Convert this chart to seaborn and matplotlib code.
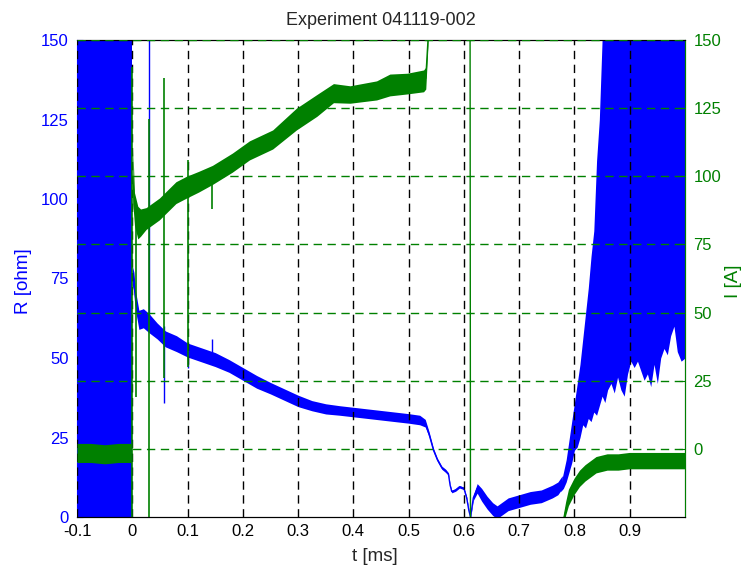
import matplotlib
matplotlib.use("Agg")
import numpy as np
import pandas as pd
import matplotlib.pyplot as plt
import seaborn as sns

# ---------------- data ----------------
title = "Experiment 041119-002"
x_ticks = [-0.1, 0.0, 0.1, 0.2, 0.3, 0.4, 0.5, 0.6, 0.7, 0.8, 0.9]
x_tick_labels = ["-0.1", "0", "0.1", "0.2", "0.3", "0.4", "0.5", "0.6", "0.7", "0.8", "0.9"]
r_ticks = [0, 25, 50, 75, 100, 125, 150]
i_ticks = [0, 25, 50, 75, 100, 125, 150]

# R [ohm] : pre-trigger noise fills the whole range
r_pre_t = [-0.1, -0.0005]
r_pre_lo = [0, 0]
r_pre_hi = [150, 150]

# R [ohm] : main trace (centre and half width of the noise band)
r_t = [0.0, 0.003, 0.006, 0.012, 0.02, 0.03, 0.045, 0.06, 0.08, 0.1, 0.125, 0.15,
       0.175, 0.2, 0.225, 0.25, 0.275, 0.3, 0.325, 0.35, 0.375, 0.4, 0.425, 0.45,
       0.475, 0.5, 0.52, 0.53, 0.537, 0.545, 0.552, 0.56, 0.567, 0.572, 0.575,
       0.578, 0.585, 0.592, 0.6, 0.605, 0.609, 0.612, 0.617, 0.624, 0.632, 0.642,
       0.652, 0.66, 0.668, 0.68, 0.7, 0.72, 0.74, 0.76, 0.77, 0.778]
r_mid = [76, 74, 68, 62, 62.5, 61, 58.5, 56, 54.5, 52.5, 51, 49.5,
         47.5, 45, 42.5, 40.5, 38.5, 36.5, 35, 34, 33.5, 33, 32.5, 32,
         31.5, 31, 30.5, 29.5, 26, 21, 18, 15.5, 14.5, 13.5, 10,
         8, 8.5, 9.5, 9, 6, 2, 0, 6, 9, 7, 4.5,
         2.5, 1.5, 2.5, 4, 5, 6, 6.5, 8, 9, 11]
r_half = [3, 3, 3, 3, 3, 3, 2.5, 2.5, 2.5, 2.2, 2.2, 2.2,
          2, 2, 2, 1.8, 1.8, 1.8, 1.6, 1.6, 1.5, 1.5, 1.5, 1.5,
          1.5, 1.5, 1.5, 1.2, 0.8, 0.6, 0.5, 0.5, 0.5, 0.4, 0.4,
          0.4, 0.4, 0.4, 0.4, 0.4, 0.4, 0.4, 0.8, 1.5, 2, 2,
          2, 2, 2, 2, 2, 2, 2, 2, 2, 2]

# R [ohm] : rising noisy tail (lower / upper envelope)
r_tail_t = [0.775, 0.78, 0.785, 0.79, 0.795, 0.80, 0.805, 0.81, 0.815, 0.82, 0.825,
            0.83, 0.835, 0.84, 0.845, 0.85, 0.855, 0.86, 0.866, 0.872, 0.878,
            0.884, 0.89, 0.896, 0.902, 0.908, 0.914, 0.92, 0.926, 0.932, 0.938,
            0.944, 0.95, 0.956, 0.962, 0.968, 0.974, 0.98, 0.986, 0.993, 1.0]
r_tail_lo = [8, 9, 11, 14, 17, 21, 22, 25, 29, 28, 31,
             30, 33, 32, 35, 38, 36, 40, 42, 39, 44,
             40, 38, 45, 49, 47, 49, 46, 43, 45, 41,
             48, 42, 50, 53, 51, 57, 60, 52, 49, 50]
r_tail_hi = [10, 14, 18, 24, 30, 36, 42, 48, 56, 64, 72,
             82, 90, 112, 125, 150, 150, 150, 150, 150, 150,
             150, 150, 150, 150, 150, 150, 150, 150, 150, 150,
             150, 150, 150, 150, 150, 150, 150, 150, 150, 150]

# R [ohm] : single spikes (time, low, high)
r_spike_t = [0.030, 0.058, 0.100, 0.145]
r_spike_lo = [61, 36, 47, 49]
r_spike_hi = [150, 60, 53, 56]

# I [A] : pre-trigger baseline
i_pre_t = [-0.1, -0.075, -0.05, -0.025, -0.002]
i_pre_mid = [-1.5, -1.5, -2, -1.5, -1.5]
i_pre_half = [3.5, 3.5, 3.5, 3.5, 3.5]

# I [A] : main trace
i_t = [0.001, 0.004, 0.01, 0.015, 0.025, 0.049, 0.079, 0.098, 0.12, 0.145, 0.181,
       0.212, 0.254, 0.297, 0.334, 0.364, 0.394, 0.442, 0.466, 0.497, 0.527,
       0.531, 0.535, 0.54, 0.611]
i_mid = [100, 88, 83, 83, 84.5, 88, 94, 96, 98, 100.5, 105,
         109.5, 113.5, 121, 126, 130.5, 130, 131.5, 133.5, 134, 135,
         136, 150, 200, 200]
i_half = [10, 6, 6, 5, 4, 4, 4, 4, 3.8, 3.5, 3.5,
          3.5, 3.5, 4, 4, 3.5, 3.2, 3.5, 4, 3.8, 4,
          4, 2, 1, 1]

# I [A] : recovery after the current gap
i_end_t = [0.611, 0.612, 0.775, 0.78, 0.785, 0.79, 0.80, 0.81, 0.82, 0.83, 0.84,
           0.86, 0.88, 0.9, 0.95, 1.0]
i_end_mid = [200, -60, -60, -27, -22, -18, -14, -11, -9, -7.5, -6,
             -5, -5, -4.5, -4.5, -4.5]
i_end_half = [0.5, 0.5, 0.5, 2, 2.5, 3, 3, 3, 3, 3, 3,
              3, 3, 3, 3, 3]

# I [A] : single spikes (time, low, high)
i_spike_t = [-0.001, 0.007, 0.030, 0.058, 0.100, 0.145]
i_spike_lo = [-30, 19, -30, 26, 30, 88]
i_spike_hi = [140, 85, 121, 136, 106, 100]

# ---------------- style ----------------
sns.set_style("white")
plt.rcParams["font.family"] = ["Liberation Sans", "DejaVu Sans"]
BLUE = (0, 0, 1)
GREEN = (0, 0.5, 0)

fig = plt.figure(figsize=(7.44, 5.72), dpi=100)
ax = fig.add_axes([77 / 744, 1 - 517 / 572, 608 / 744, 477 / 572])
ax2 = ax.twinx()

# ---------------- R (left axis) ----------------
ax.fill_between(r_pre_t, r_pre_lo, r_pre_hi, color=BLUE, lw=0, zorder=2)
r_lo = [m - h for m, h in zip(r_mid, r_half)]
r_hi = [m + h for m, h in zip(r_mid, r_half)]
ax.fill_between(r_t, r_lo, r_hi, color=BLUE, lw=0, zorder=2)
df_r = pd.DataFrame({"t": r_t, "R": r_mid})
sns.lineplot(data=df_r, x="t", y="R", ax=ax, color=BLUE, lw=1.0, zorder=2)
ax.fill_between(r_tail_t, r_tail_lo, r_tail_hi, color=BLUE, lw=0, zorder=2)
ax.vlines(r_spike_t, r_spike_lo, r_spike_hi, color=BLUE, lw=1.0, zorder=2)

ax.set_xlim(-0.1, 1.0)
ax.set_ylim(0, 150)
ax.set_xticks(x_ticks)
ax.set_xticklabels(x_tick_labels)
ax.set_yticks(r_ticks)
ax.tick_params(axis="y", colors=BLUE, labelsize=12, direction="in", length=4, pad=6)
ax.tick_params(axis="x", colors="black", labelsize=12, direction="in", length=4, pad=5)
ax.set_xlabel("t [ms]", fontsize=13.5)
ax.set_ylabel("R [ohm]", fontsize=13.5, color=BLUE)
ax.xaxis.set_label_coords(0.49, -0.065)
ax.yaxis.set_label_coords(-0.074, 0.495)
ax.set_title(title, fontsize=13, pad=11)
ax.set_axisbelow(False)
ax.grid(False)
for xv in x_ticks:
    ax.axvline(xv, color="black", lw=1.0, ls=(0, (6, 4)), zorder=3)
for s in ["top", "bottom"]:
    ax.spines[s].set_color("black")
ax.spines["left"].set_color(BLUE)

# ---------------- I (right axis) ----------------
ax2.fill_between(i_pre_t, [m - h for m, h in zip(i_pre_mid, i_pre_half)],
                 [m + h for m, h in zip(i_pre_mid, i_pre_half)], color=GREEN, lw=0)
ax2.fill_between(i_t, [m - h for m, h in zip(i_mid, i_half)],
                 [m + h for m, h in zip(i_mid, i_half)], color=GREEN, lw=0)
ax2.fill_between(i_end_t, [m - h for m, h in zip(i_end_mid, i_end_half)],
                 [m + h for m, h in zip(i_end_mid, i_end_half)], color=GREEN, lw=0)
df_i = pd.DataFrame({"t": i_t + i_end_t, "I": i_mid + i_end_mid})
sns.lineplot(data=df_i, x="t", y="I", ax=ax2, color=GREEN, lw=1.0, sort=False)
ax2.vlines(i_spike_t, i_spike_lo, i_spike_hi, color=GREEN, lw=1.2)

ax2.set_ylim(-25, 150)
ax2.set_yticks(i_ticks)
ax2.tick_params(axis="y", colors=GREEN, labelsize=12, direction="in", length=4, pad=6)
ax2.set_ylabel("I [A]", fontsize=13.5, color=GREEN)
ax2.yaxis.set_label_coords(1.066, 0.495)
for yv in i_ticks:
    ax2.axhline(yv, color=GREEN, lw=1.0, ls=(0, (6, 4)), zorder=3)
ax2.spines["right"].set_color(GREEN)
ax2.spines["left"].set_visible(False)
ax2.spines["top"].set_color("black")
ax2.spines["bottom"].set_color("black")

fig.savefig("out.png", dpi=100)
